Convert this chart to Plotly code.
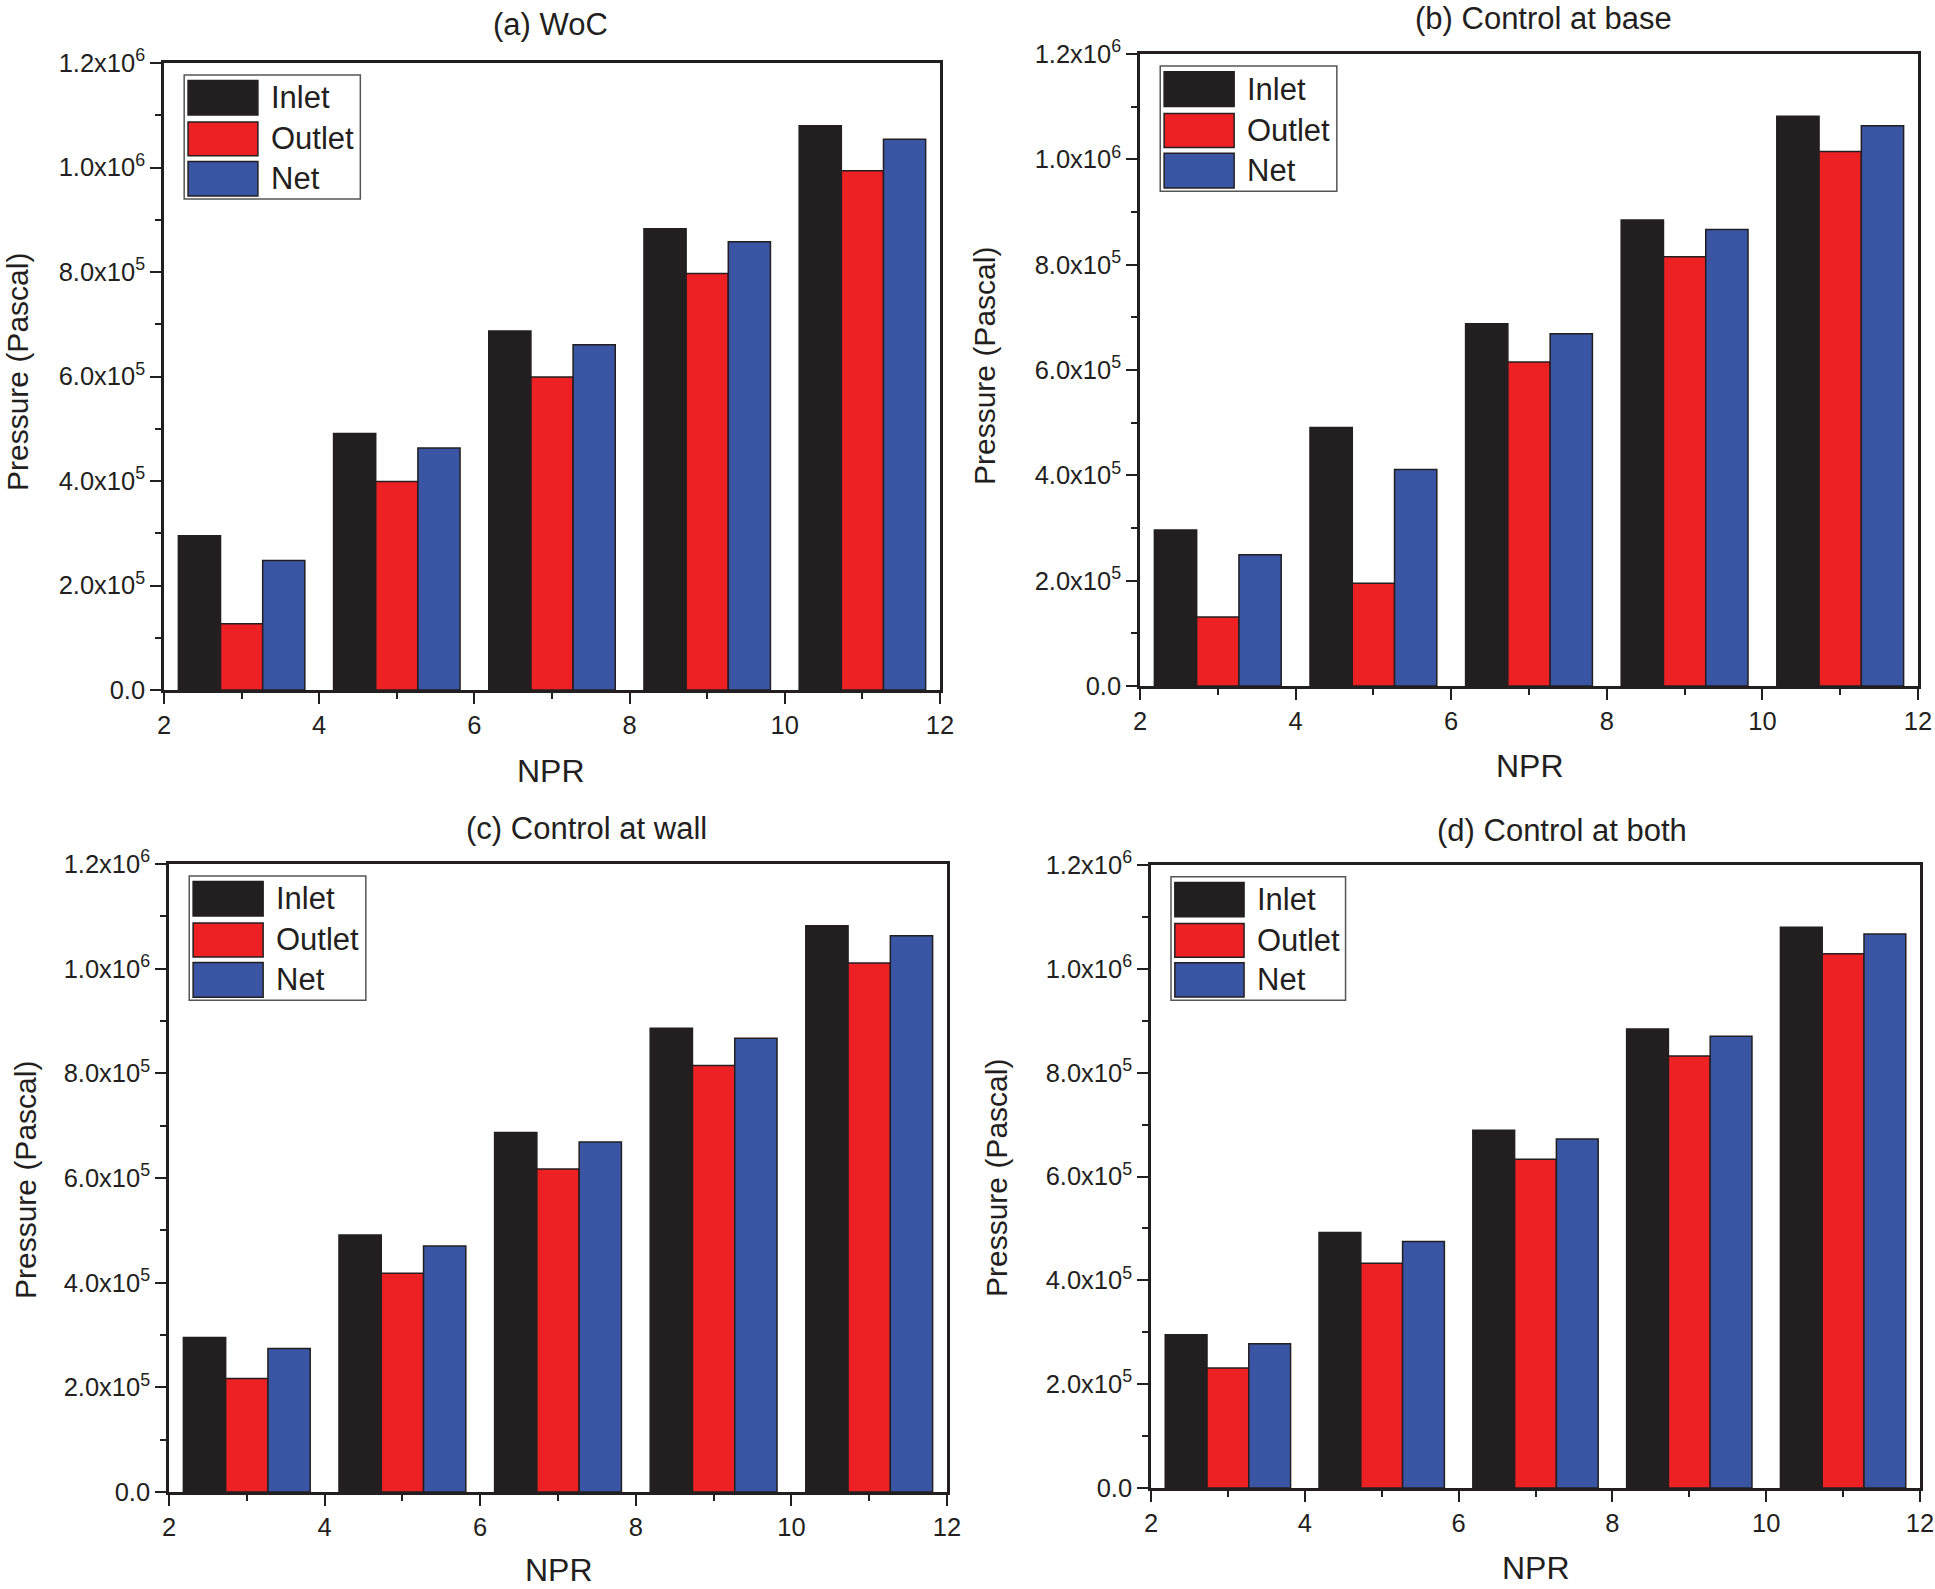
import plotly.graph_objects as go

npr = [3, 5, 7, 9, 11]
series_names = ["Inlet", "Outlet", "Net"]
colors = ["#231f20", "#ed2024", "#3a55a4"]

panel_titles = ["(a) WoC", "(b) Control at base", "(c) Control at wall", "(d) Control at both"]

woc_inlet = [2.95e5, 4.91e5, 6.87e5, 8.83e5, 1.080e6]
woc_outlet = [1.27e5, 3.99e5, 5.99e5, 7.97e5, 0.994e6]
woc_net = [2.48e5, 4.63e5, 6.61e5, 8.58e5, 1.054e6]

base_inlet = [2.96e5, 4.91e5, 6.88e5, 8.85e5, 1.082e6]
base_outlet = [1.31e5, 1.95e5, 6.15e5, 8.15e5, 1.015e6]
base_net = [2.49e5, 4.11e5, 6.69e5, 8.67e5, 1.064e6]

wall_inlet = [2.95e5, 4.91e5, 6.87e5, 8.86e5, 1.082e6]
wall_outlet = [2.17e5, 4.18e5, 6.17e5, 8.15e5, 1.011e6]
wall_net = [2.74e5, 4.70e5, 6.69e5, 8.67e5, 1.063e6]

both_inlet = [2.95e5, 4.92e5, 6.89e5, 8.84e5, 1.080e6]
both_outlet = [2.31e5, 4.33e5, 6.33e5, 8.32e5, 1.029e6]
both_net = [2.78e5, 4.75e5, 6.72e5, 8.70e5, 1.067e6]

panels = [
    [woc_inlet, woc_outlet, woc_net],
    [base_inlet, base_outlet, base_net],
    [wall_inlet, wall_outlet, wall_net],
    [both_inlet, both_outlet, both_net],
]

ytick_vals = [0, 2e5, 4e5, 6e5, 8e5, 1.0e6, 1.2e6]
ytick_text = ["0.0", "2.0x10<sup>5</sup>", "4.0x10<sup>5</sup>", "6.0x10<sup>5</sup>",
              "8.0x10<sup>5</sup>", "1.0x10<sup>6</sup>", "1.2x10<sup>6</sup>"]
xtick_vals = [2, 4, 6, 8, 10, 12]

W, H = 1935, 1589
# plot areas in pixels: (left, right, top, bottom)
areas = [
    (164, 940, 63, 690),
    (1140, 1918, 54, 686),
    (169, 947, 864, 1492),
    (1151, 1920, 865, 1488),
]
# title positions (x, y) in pixels
title_pos = [(550, 24), (1543, 19), (586, 828), (1562, 830)]
npr_pos = [(551, 771), (1530, 766), (559, 1570), (1536, 1568)]
ylab_pos = [(18, 372), (984, 366), (25, 1180), (996, 1178)]

tick_font = dict(family="Liberation Sans, Arial", size=25.5, color="#231f20")
title_font = dict(family="Liberation Sans, Arial", size=31, color="#231f20")
npr_font = dict(family="Liberation Sans, Arial", size=32, color="#231f20")
ylab_font = dict(family="Liberation Sans, Arial", size=30, color="#231f20")

fig = go.Figure()
layout = dict(
    width=W, height=H, margin=dict(l=0, r=0, t=0, b=0, autoexpand=False),
    paper_bgcolor="white", plot_bgcolor="white",
    barmode="group", bargap=0.185, bargroupgap=0,
    showlegend=False,
)
shapes = []
annotations = []

for i, (vals, area) in enumerate(zip(panels, areas)):
    xa = "x" if i == 0 else f"x{i+1}"
    ya = "y" if i == 0 else f"y{i+1}"
    for name, v, c in zip(series_names, vals, colors):
        fig.add_trace(go.Bar(
            x=npr, y=v, name=name, xaxis=xa, yaxis=ya,
            marker=dict(color=c, line=dict(color="#231f20", width=1.5)),
        ))
    l, r, t, b = area
    xkey = "xaxis" if i == 0 else f"xaxis{i+1}"
    ykey = "yaxis" if i == 0 else f"yaxis{i+1}"
    layout[xkey] = dict(
        domain=[l / W, r / W], range=[2, 12], anchor=ya, automargin=False,
        tickvals=xtick_vals, ticks="outside", ticklen=11, tickwidth=2, tickcolor="#231f20",
        minor=dict(dtick=1, tick0=0, ticks="outside", ticklen=6, tickwidth=2, tickcolor="#231f20"),
        showline=True, linecolor="#231f20", linewidth=2.5, mirror=True,
        showgrid=False, zeroline=False, tickfont=tick_font,
    )
    layout[ykey] = dict(
        domain=[(H - b) / H, (H - t) / H], range=[0, 1.2e6], anchor=xa, automargin=False,
        tickvals=ytick_vals, ticktext=ytick_text,
        ticks="outside", ticklen=11, tickwidth=2, tickcolor="#231f20",
        minor=dict(dtick=1e5, tick0=0, ticks="outside", ticklen=6, tickwidth=2, tickcolor="#231f20"),
        showline=True, linecolor="#231f20", linewidth=2.5, mirror=True,
        showgrid=False, zeroline=False, tickfont=tick_font,
    )
    tx, ty = title_pos[i]
    annotations.append(dict(text=panel_titles[i], x=tx / W, y=1 - ty / H, xref="paper", yref="paper",
                            showarrow=False, font=title_font, xanchor="center", yanchor="middle"))
    nx, ny = npr_pos[i]
    annotations.append(dict(text="NPR", x=nx / W, y=1 - ny / H, xref="paper", yref="paper",
                            showarrow=False, font=npr_font, xanchor="center", yanchor="middle"))
    lx, ly = ylab_pos[i]
    annotations.append(dict(text="Pressure (Pascal)", x=lx / W, y=1 - ly / H, xref="paper", yref="paper",
                            showarrow=False, font=ylab_font, textangle=-90, xanchor="center", yanchor="middle"))
    # legend box drawn in the axis domain
    xd = f"{xa} domain"
    yd = f"{ya} domain"
    shapes.append(dict(type="rect", xref=xd, yref=yd, x0=0.026, x1=0.253, y0=0.783, y1=0.981,
                       line=dict(color="#555555", width=1.5), fillcolor="white", layer="above"))
    rows = [(0.975, 0.914), (0.909, 0.849), (0.846, 0.785)]
    for (y1, y0), name, c in zip(rows, series_names, colors):
        shapes.append(dict(type="rect", xref=xd, yref=yd, x0=0.031, x1=0.121, y0=y0 + 0.003, y1=y1 - 0.003,
                           line=dict(color="#231f20", width=1.5), fillcolor=c, layer="above"))
        annotations.append(dict(text=name, xref=xd, yref=yd, x=0.135, y=(y0 + y1) / 2,
                                showarrow=False, xanchor="left", yanchor="middle",
                                font=dict(family="Liberation Sans, Arial", size=31, color="#231f20")))

layout["shapes"] = shapes
layout["annotations"] = annotations
fig.update_layout(**layout)
fig.write_html(
    "out.html",
    config={"displayModeBar": False},
    post_script="document.body.style.margin='0';document.body.style.padding='0';"
                "document.documentElement.style.overflow='hidden';",
)
